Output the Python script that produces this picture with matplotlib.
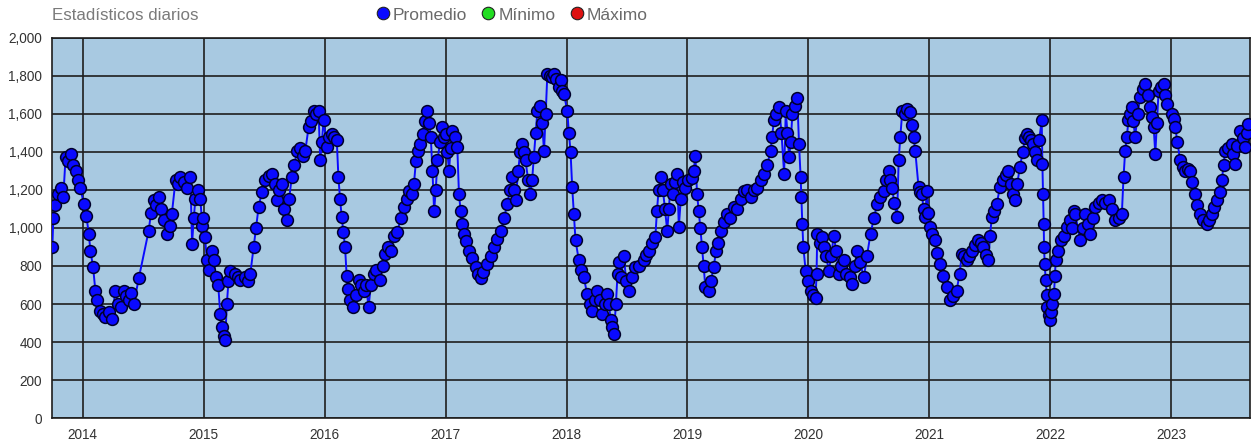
import matplotlib
matplotlib.use("Agg")
import matplotlib.pyplot as plt
from matplotlib.lines import Line2D
from matplotlib.ticker import FuncFormatter, MultipleLocator
import pandas as pd

plt.rcParams["font.family"] = ["Liberation Sans", "DejaVu Sans"]

title = "Estadísticos diarios"
series_names = ["Promedio", "Mínimo", "Máximo"]
series_colors = ["#0a0aff", "#22dd22", "#dd1111"]
year_ticks = [2014, 2015, 2016, 2017, 2018, 2019, 2020, 2021, 2022, 2023]

# daily average (roughly every 1-2 weeks, denser at sharp moves)
dates = [
    "2013-10-01", "2013-10-04", "2013-10-10", "2013-10-18", "2013-10-26", "2013-11-03", "2013-11-10",
    "2013-11-18", "2013-11-25", "2013-12-03", "2013-12-10", "2013-12-18", "2013-12-25",
    "2014-01-04", "2014-01-12", "2014-01-19", "2014-01-24", "2014-02-01", "2014-02-08", "2014-02-13",
    "2014-02-23", "2014-03-03", "2014-03-10", "2014-03-20", "2014-03-30", "2014-04-09", "2014-04-17",
    "2014-04-25", "2014-05-05", "2014-05-12", "2014-05-20", "2014-05-27", "2014-06-04", "2014-06-19",
    "2014-07-19", "2014-07-26", "2014-08-03", "2014-08-10", "2014-08-18", "2014-08-25", "2014-09-02",
    "2014-09-12", "2014-09-20", "2014-09-27", "2014-10-08", "2014-10-15", "2014-10-23", "2014-11-02",
    "2014-11-12", "2014-11-22", "2014-11-27", "2014-12-02", "2014-12-07", "2014-12-14", "2014-12-22",
    "2014-12-28", "2014-12-31",
    "2015-01-05", "2015-01-11", "2015-01-18", "2015-01-26", "2015-02-01", "2015-02-07", "2015-02-14",
    "2015-02-20", "2015-02-25", "2015-03-02", "2015-03-07", "2015-03-12", "2015-03-17", "2015-03-22",
    "2015-04-06", "2015-04-14", "2015-04-22", "2015-05-05", "2015-05-14", "2015-05-22", "2015-06-01",
    "2015-06-08", "2015-06-16", "2015-06-26", "2015-07-06", "2015-07-16", "2015-07-26", "2015-08-03",
    "2015-08-10", "2015-08-18", "2015-08-25", "2015-09-02", "2015-09-09", "2015-09-16", "2015-09-24",
    "2015-10-02", "2015-10-10", "2015-10-20", "2015-10-28", "2015-11-04", "2015-11-14", "2015-11-21",
    "2015-11-29", "2015-12-07", "2015-12-14", "2015-12-19", "2015-12-24", "2015-12-29",
    "2016-01-08", "2016-01-15", "2016-01-23", "2016-01-30", "2016-02-07", "2016-02-12", "2016-02-17",
    "2016-02-22", "2016-02-27", "2016-03-03", "2016-03-08", "2016-03-13", "2016-03-18", "2016-03-28",
    "2016-04-05", "2016-04-13", "2016-04-20", "2016-04-28", "2016-05-05", "2016-05-13", "2016-05-20",
    "2016-05-28", "2016-06-05", "2016-06-17", "2016-06-25", "2016-07-02", "2016-07-10", "2016-07-19",
    "2016-07-28", "2016-08-08", "2016-08-18", "2016-08-28", "2016-09-05", "2016-09-12", "2016-09-20",
    "2016-09-27", "2016-10-03", "2016-10-08", "2016-10-15", "2016-10-23", "2016-10-30", "2016-11-07",
    "2016-11-12", "2016-11-17", "2016-11-22", "2016-11-27", "2016-12-02", "2016-12-07", "2016-12-15",
    "2016-12-22", "2016-12-27",
    "2017-01-01", "2017-01-06", "2017-01-11", "2017-01-16", "2017-01-21", "2017-01-28", "2017-02-05",
    "2017-02-10", "2017-02-15", "2017-02-20", "2017-02-25", "2017-03-04", "2017-03-12", "2017-03-22",
    "2017-04-01", "2017-04-09", "2017-04-17", "2017-04-25", "2017-05-07", "2017-05-17", "2017-05-27",
    "2017-06-06", "2017-06-16", "2017-06-26", "2017-07-06", "2017-07-14", "2017-07-21", "2017-07-26",
    "2017-07-31", "2017-08-08", "2017-08-14", "2017-08-20", "2017-08-25", "2017-08-30", "2017-09-07",
    "2017-09-14", "2017-09-19", "2017-09-24", "2017-09-30", "2017-10-05", "2017-10-12", "2017-10-19",
    "2017-10-25", "2017-10-30", "2017-11-04", "2017-11-12", "2017-11-18", "2017-11-24", "2017-12-01",
    "2017-12-09", "2017-12-14", "2017-12-19", "2017-12-24",
    "2018-01-03", "2018-01-08", "2018-01-13", "2018-01-18", "2018-01-23", "2018-01-28", "2018-02-07",
    "2018-02-15", "2018-02-22", "2018-03-04", "2018-03-12", "2018-03-19", "2018-03-27", "2018-04-04",
    "2018-04-12", "2018-04-19", "2018-04-27", "2018-05-04", "2018-05-09", "2018-05-14", "2018-05-19",
    "2018-05-24", "2018-05-30", "2018-06-04", "2018-06-08", "2018-06-15", "2018-06-23", "2018-06-30",
    "2018-07-08", "2018-07-18", "2018-07-28", "2018-08-08", "2018-08-22", "2018-08-30", "2018-09-06",
    "2018-09-16", "2018-09-26", "2018-10-01", "2018-10-06", "2018-10-12", "2018-10-19", "2018-10-25",
    "2018-11-01", "2018-11-06", "2018-11-11", "2018-11-18", "2018-11-25", "2018-12-01", "2018-12-06",
    "2018-12-12", "2018-12-19", "2018-12-26",
    "2019-01-04", "2019-01-14", "2019-01-20", "2019-01-25", "2019-01-30", "2019-02-04", "2019-02-09",
    "2019-02-14", "2019-02-19", "2019-02-24", "2019-03-06", "2019-03-13", "2019-03-21", "2019-03-29",
    "2019-04-04", "2019-04-11", "2019-04-21", "2019-05-01", "2019-05-10", "2019-05-21", "2019-06-01",
    "2019-06-11", "2019-06-21", "2019-07-01", "2019-07-11", "2019-07-21", "2019-07-31", "2019-08-10",
    "2019-08-20", "2019-08-30", "2019-09-09", "2019-09-14", "2019-09-19", "2019-09-27", "2019-10-05",
    "2019-10-12", "2019-10-20", "2019-10-25", "2019-10-30", "2019-11-04", "2019-11-09", "2019-11-14",
    "2019-11-22", "2019-11-29", "2019-12-04", "2019-12-09", "2019-12-11", "2019-12-14", "2019-12-17",
    "2019-12-24", "2019-12-31",
    "2020-01-08", "2020-01-15", "2020-01-23", "2020-01-26", "2020-01-28", "2020-02-05", "2020-02-10",
    "2020-02-17", "2020-02-24", "2020-03-03", "2020-03-10", "2020-03-18", "2020-03-25", "2020-04-03",
    "2020-04-10", "2020-04-18", "2020-04-25", "2020-05-05", "2020-05-13", "2020-05-20", "2020-05-28",
    "2020-06-05", "2020-06-17", "2020-06-26", "2020-07-07", "2020-07-17", "2020-07-27", "2020-08-06",
    "2020-08-16", "2020-08-24", "2020-08-31", "2020-09-05", "2020-09-10", "2020-09-17", "2020-09-25",
    "2020-09-30", "2020-10-05", "2020-10-11", "2020-10-18", "2020-10-25", "2020-11-04", "2020-11-10",
    "2020-11-14", "2020-11-19", "2020-11-29", "2020-12-04", "2020-12-09", "2020-12-14", "2020-12-19",
    "2020-12-24", "2020-12-29",
    "2021-01-03", "2021-01-10", "2021-01-18", "2021-01-25", "2021-02-02", "2021-02-10", "2021-02-22",
    "2021-03-04", "2021-03-12", "2021-03-24", "2021-04-02", "2021-04-09", "2021-04-16", "2021-04-24",
    "2021-05-01", "2021-05-09", "2021-05-19", "2021-05-29", "2021-06-06", "2021-06-13", "2021-06-20",
    "2021-06-28", "2021-07-03", "2021-07-08", "2021-07-15", "2021-07-23", "2021-08-02", "2021-08-12",
    "2021-08-20", "2021-08-27", "2021-09-04", "2021-09-10", "2021-09-16", "2021-09-23", "2021-10-01",
    "2021-10-10", "2021-10-16", "2021-10-22", "2021-10-30", "2021-11-05", "2021-11-11", "2021-11-16",
    "2021-11-21", "2021-11-28", "2021-12-06", "2021-12-08", "2021-12-10", "2021-12-12", "2021-12-13",
    "2021-12-15", "2021-12-18", "2021-12-21", "2021-12-23", "2021-12-27", "2021-12-31",
    "2022-01-04", "2022-01-07", "2022-01-12", "2022-01-15", "2022-01-17", "2022-01-24", "2022-02-01",
    "2022-02-10", "2022-02-21", "2022-03-01", "2022-03-08", "2022-03-13", "2022-03-17", "2022-04-01",
    "2022-04-09", "2022-04-17", "2022-04-24", "2022-05-02", "2022-05-10", "2022-05-17", "2022-05-27",
    "2022-06-06", "2022-06-16", "2022-06-26", "2022-07-06", "2022-07-16", "2022-07-26", "2022-08-05",
    "2022-08-10", "2022-08-15", "2022-08-20", "2022-08-25", "2022-08-30", "2022-09-04", "2022-09-09",
    "2022-09-14", "2022-09-22", "2022-09-29", "2022-10-07", "2022-10-15", "2022-10-22", "2022-10-30",
    "2022-11-04", "2022-11-09", "2022-11-14", "2022-11-19", "2022-11-24", "2022-12-01", "2022-12-09",
    "2022-12-14", "2022-12-19",
    "2023-01-03", "2023-01-08", "2023-01-13", "2023-01-20", "2023-01-28", "2023-02-05", "2023-02-12",
    "2023-02-20", "2023-02-27", "2023-03-06", "2023-03-14", "2023-03-21", "2023-03-29", "2023-04-08",
    "2023-04-19", "2023-04-26", "2023-05-04", "2023-05-11", "2023-05-19", "2023-05-27", "2023-06-03",
    "2023-06-08", "2023-06-13", "2023-06-23", "2023-07-03", "2023-07-08", "2023-07-13", "2023-07-20",
    "2023-07-28", "2023-08-05", "2023-08-12", "2023-08-18", "2023-08-22",
]
values = [
    900, 1050, 1120, 1180, 1210, 1160, 1370,
    1350, 1390, 1330, 1300, 1250, 1210,
    1125, 1060, 970, 880, 795, 670, 620,
    565, 550, 530, 560, 520, 670, 600,
    585, 670, 640, 620, 660, 600, 735,
    985, 1080, 1145, 1120, 1160, 1100, 1040,
    970, 1010, 1075, 1250, 1230, 1265, 1240,
    1210, 1265, 915, 1050, 1150, 1200, 1150,
    1010, 1050,
    950, 830, 780, 880, 830, 740, 700,
    550, 480, 430, 412, 600, 720, 775,
    760, 740, 725, 740, 720, 760, 900,
    1000, 1110, 1190, 1250, 1270, 1285, 1230,
    1145, 1200, 1230, 1100, 1040, 1150, 1265,
    1330, 1405, 1420, 1380, 1405, 1530, 1560,
    1615, 1600, 1615, 1355, 1450, 1565,
    1425, 1480, 1495, 1480, 1460, 1265, 1150,
    1055, 980, 900, 745, 680, 620, 585,
    650, 725, 700, 670, 700, 585, 700,
    760, 780, 725, 800, 865, 900, 880,
    960, 980, 1050, 1110, 1150, 1195, 1180,
    1230, 1350, 1405, 1440, 1495, 1560, 1615,
    1550, 1475, 1300, 1090, 1200, 1355, 1450,
    1530, 1480,
    1495, 1400, 1300, 1420, 1510, 1480, 1425,
    1180, 1090, 1020, 970, 930, 880, 840,
    795, 760, 735, 770, 810, 850, 900,
    940, 985, 1050, 1125, 1200, 1265, 1200,
    1145, 1300, 1400, 1440, 1400, 1355, 1250,
    1180, 1250, 1370, 1500, 1615, 1640, 1550,
    1405, 1600, 1810, 1800, 1790, 1810, 1780,
    1740, 1775, 1720, 1705,
    1615, 1500, 1400, 1215, 1075, 935, 830,
    780, 740, 655, 600, 565, 620, 670,
    620, 550, 600, 655, 600, 515, 480,
    445, 600, 760, 820, 740, 855, 720,
    670, 740, 795, 800, 830, 860, 880,
    920, 950, 1090, 1200, 1265, 1200, 1100,
    985, 1100, 1230, 1180, 1240, 1285, 1005,
    1150, 1240, 1210,
    1250, 1260, 1300, 1380, 1180, 1090, 1000,
    900, 800, 690, 670, 720, 795, 880,
    920, 985, 1030, 1075, 1050, 1110, 1100,
    1150, 1195, 1200, 1160, 1200, 1210, 1250,
    1285, 1330, 1405, 1480, 1565, 1600, 1635,
    1500, 1285, 1615, 1500, 1370, 1450, 1600,
    1640, 1680, 1440, 1265, 1160, 1020, 900,
    775, 720,
    670, 650, 630, 760, 970, 920, 950,
    900, 850, 775, 850, 960, 880, 760,
    800, 830, 760, 740, 705, 800, 880,
    820, 740, 850, 970, 1050, 1125, 1160,
    1195, 1250, 1300, 1250, 1210, 1130, 1055,
    1355, 1480, 1615, 1600, 1625, 1610, 1540,
    1475, 1405, 1215, 1190, 1180, 1100, 1055,
    1195, 1080,
    1005, 970, 935, 870, 810, 750, 690,
    620, 640, 670, 760, 865, 850, 830,
    850, 880, 910, 935, 920, 900, 860,
    830, 960, 1055, 1090, 1125, 1215, 1250,
    1280, 1300, 1230, 1180, 1145, 1230, 1320,
    1400, 1470, 1495, 1480, 1460, 1440, 1400,
    1355, 1460, 1565, 1335, 1180, 1020, 900,
    810, 725, 650, 585, 540, 515,
    560, 600, 655, 750, 830, 880, 935,
    960, 1005, 1040, 1000, 1090, 1075, 935,
    1000, 1075, 1020, 970, 1050, 1110, 1130,
    1145, 1130, 1145, 1100, 1040, 1050, 1075,
    1265, 1405, 1480, 1565, 1600, 1635, 1560,
    1475, 1600, 1685, 1730, 1755, 1700, 1635,
    1580, 1530, 1390, 1550, 1720, 1740, 1755,
    1700, 1650,
    1600, 1570, 1530, 1450, 1355, 1320, 1300,
    1310, 1300, 1240, 1180, 1120, 1075, 1040,
    1020, 1040, 1075, 1110, 1145, 1190, 1250,
    1330, 1405, 1420, 1440, 1390, 1335, 1430,
    1510, 1470, 1425, 1500, 1545,
]

W, H = 1253, 441
fig = plt.figure(figsize=(W / 100, H / 100), dpi=100)
ax = fig.add_axes([52 / W, 1 - 418.3 / H, (1250 - 52) / W, (418.3 - 37.5) / H])

when = pd.to_datetime(dates)
ax.plot(when, values, "-o", color=series_colors[0], linewidth=1.4,
        markersize=8.5, markerfacecolor=series_colors[0],
        markeredgecolor="#00002a", markeredgewidth=1.1, zorder=3)

ax.set_xlim(pd.Timestamp("2013-09-30"), pd.Timestamp("2023-08-27"))
ax.set_ylim(0, 2000)
ax.set_xticks([pd.Timestamp(f"{y}-01-01") for y in year_ticks])
ax.set_xticklabels([str(y) for y in year_ticks])
ax.yaxis.set_major_locator(MultipleLocator(200))
ax.yaxis.set_major_formatter(FuncFormatter(lambda v, p: f"{v:,.0f}"))

ax.set_facecolor("#a8c9e1")
ax.grid(True, color="#1e1e1e", linewidth=1.2)
ax.set_axisbelow(True)
for s in ax.spines.values():
    s.set_color("#1e1e1e")
    s.set_linewidth(1.2)
ax.tick_params(length=0, pad=7, colors="#333333", labelsize=9.8)

fig.text(52 / W, 1 - 15 / H, title, ha="left", va="center",
         color="#7a7a7a", fontsize=12.2)

handles = [Line2D([], [], linestyle="none", marker="o", markersize=9,
                  markerfacecolor=c, markeredgecolor="#222222", markeredgewidth=0.8)
           for c in series_colors]
fig.legend(handles, series_names, ncol=3, loc="center",
           bbox_to_anchor=(511 / W, 1 - 15 / H), frameon=False,
           handletextpad=0.1, columnspacing=0.7, handlelength=1.0,
           fontsize=12.5, labelcolor="#6a6a6a")

fig.savefig("out.png", dpi=100)
